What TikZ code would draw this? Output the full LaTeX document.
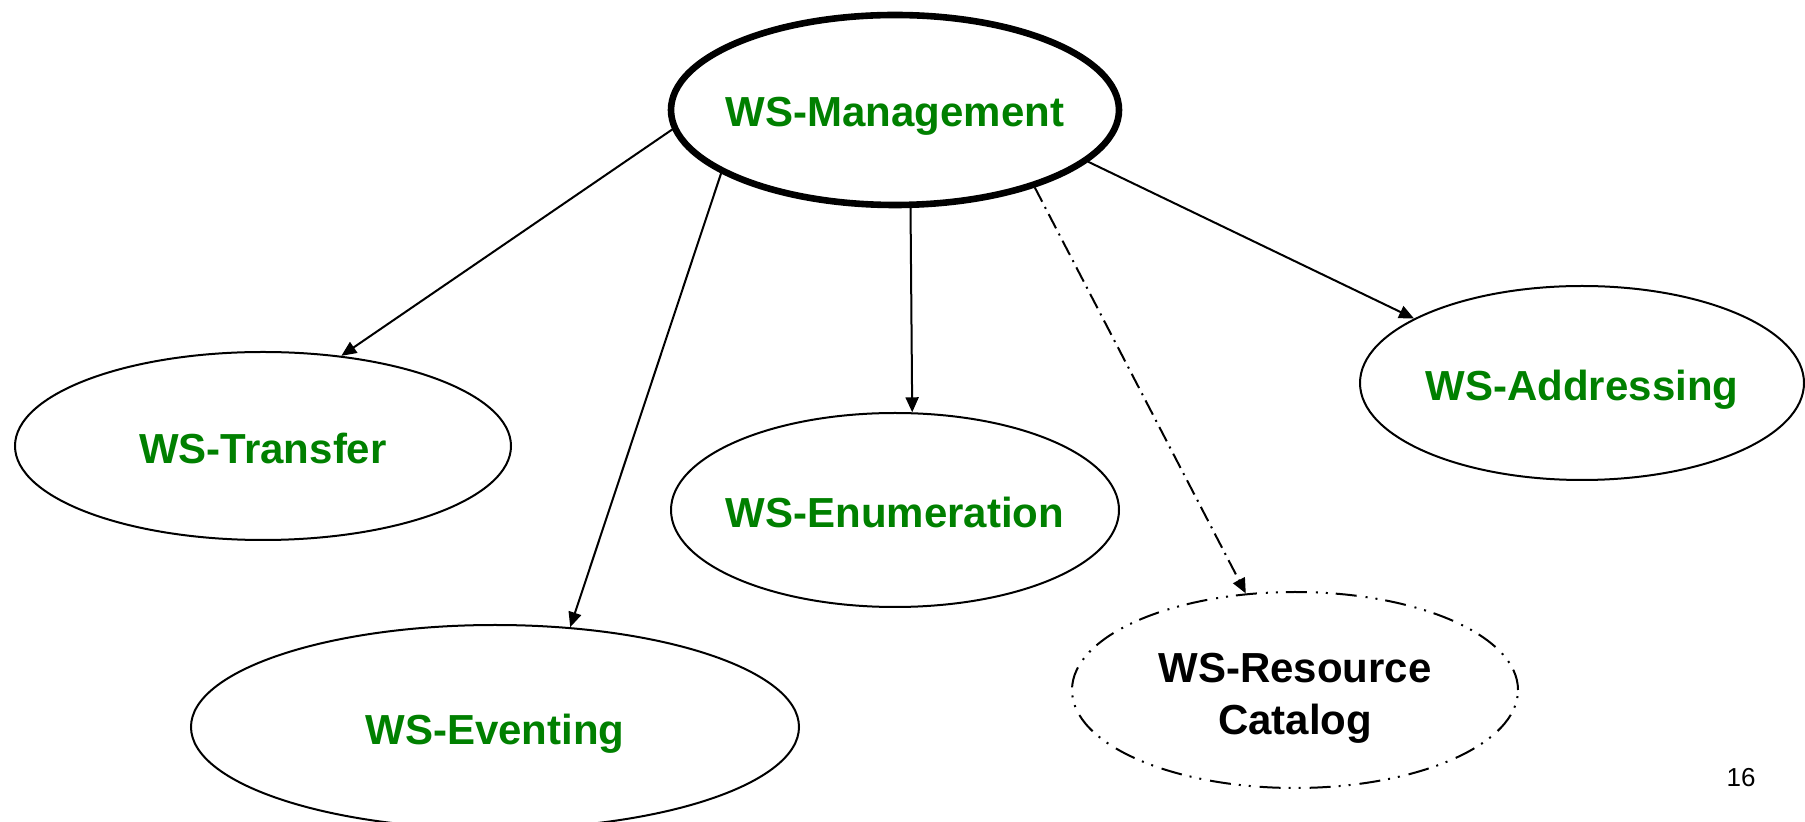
\documentclass[tikz,border=0pt]{standalone}
\usepackage{fontspec}
\setmainfont{Liberation Sans}
\usetikzlibrary{shapes.geometric,arrows.meta}
\begin{document}
\begin{tikzpicture}[x=0.5pt,y=-0.5pt,
  spec/.style={ellipse,draw,fill=white,line width=1pt,inner sep=0pt},
  txt/.style={font=\fontsize{21}{26}\selectfont\bfseries,text=green!50!black,text depth=0pt,yshift=-1pt},
  link/.style={line width=1pt,-{Triangle[length=7.5pt,width=6.5pt]}},
  dashdot/.style={dash pattern=on 8pt off 3pt on 1pt off 3pt},
  dashdotdot/.style={dash pattern=on 10.5pt off 4pt on 1pt off 4pt on 1pt off 4.5pt}]
\useasboundingbox (0,0) rectangle (1805,822);
\clip (0,0) rectangle (1805,822);

\node[spec,line width=3.3pt,minimum width=224pt,minimum height=95pt,
  label={[txt]center:WS-Management}] (mgmt) at (895,110) {};
\node[spec,minimum width=248pt,minimum height=94pt,
  label={[txt]center:WS-Transfer}] (transfer) at (263,446) {};
\node[spec,minimum width=304pt,minimum height=102pt,
  label={[txt]center:WS-Eventing}] (eventing) at (495,727) {};
\node[spec,minimum width=224pt,minimum height=97pt,
  label={[txt]center:WS-Enumeration}] (enum) at (895,510) {};
\node[spec,minimum width=222pt,minimum height=97pt,
  label={[txt]center:WS-Addressing}] (addr) at (1582,383) {};
\node[spec,dashdotdot,minimum width=223pt,minimum height=98pt,
  label={[font=\fontsize{21}{26}\selectfont\bfseries,align=center,yshift=-4pt]center:WS-Resource\\Catalog}] (catalog) at (1295,690) {};

\node (page) at (1741,778) {\fontsize{13}{13}\selectfont 16};

% links from WS-Management
\draw[link] (mgmt.185) -- (transfer.49);
\draw[link] (mgmt.200) -- (eventing.53);
\draw[link] (mgmt.279.4) -- (enum.80.8);
\draw[link,dashdot] (mgmt.331) -- (catalog.117.7);
\draw[link] (mgmt.345.4) -- (addr.159.3);
\end{tikzpicture}
\end{document}
